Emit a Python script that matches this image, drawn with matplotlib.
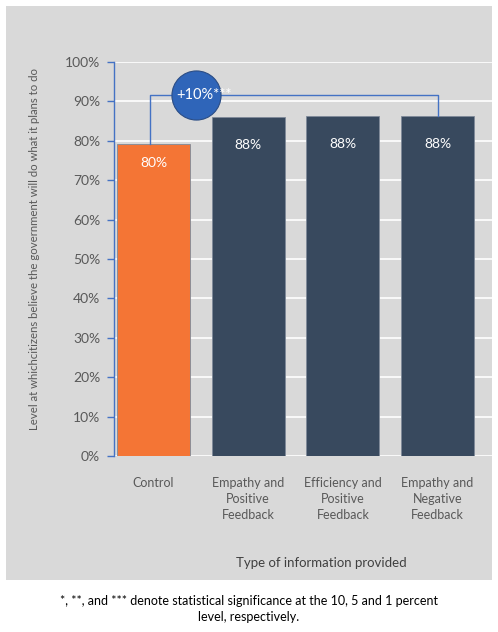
import matplotlib

matplotlib.use("Agg")

import matplotlib.pyplot as plt
from matplotlib.patches import Rectangle

categories = ["Control", "Empathy and\nPositive\nFeedback", "Efficiency and\nPositive\nFeedback",
              "Empathy and\nNegative\nFeedback"]
values = [79.3, 86.0, 86.3, 86.3]
bar_labels = ["80%", "88%", "88%", "88%"]
bar_colors = ["#F47535", "#38495E", "#38495E", "#38495E"]
yticks = list(range(0, 101, 10))
effect_text = "+10%***"
bracket_level = 91.5

plt.rcParams["font.family"] = ["Lato", "DejaVu Sans"]

fig = plt.figure(figsize=(4.98, 6.32), dpi=100)
fig.add_artist(Rectangle((6 / 498, 1 - 580 / 632), 486 / 498, 574 / 632,
                         transform=fig.transFigure, facecolor="#D9D9D9",
                         edgecolor="none", zorder=-10))

ax = fig.add_axes([114 / 498, 1 - 456 / 632, 378 / 498, 394 / 632])
ax.set_facecolor("none")
x = list(range(len(categories)))
ax.bar(x, values, width=0.77, color=bar_colors, edgecolor="#7F8A99", linewidth=0.6, zorder=3)
# Excel put the first label closer to its bar top than the others
label_offsets = [-19, -28, -28, -28]
for xi, v, lab, off in zip(x, values, bar_labels, label_offsets):
    ax.annotate(lab, (xi, v), xytext=(0, off), textcoords="offset pixels",
                ha="center", va="center", color="white", fontsize=10, zorder=5)

ax.set_xlim(-0.417, 3.575)
ax.set_ylim(0, 100)
ax.set_yticks(yticks)
ax.set_yticklabels([f"{t}%" for t in yticks], color="#595959", fontsize=10)
ax.yaxis.grid(True, color="white", linewidth=1.2, zorder=1)
ax.set_axisbelow(True)
ax.tick_params(axis="y", length=5, color="#4472C4", width=1, pad=5)
ax.tick_params(axis="x", length=0, pad=15)
ax.set_xticks(x)
ax.set_xticklabels(categories, color="#595959", fontsize=9, linespacing=1.4, va="top")
for side in ["top", "right", "bottom"]:
    ax.spines[side].set_visible(False)
ax.spines["left"].set_color("#4472C4")
ax.spines["left"].set_linewidth(1)

ax.set_ylabel("Level at whichcitizens believe the government will do what it plans to do",
              color="#595959", fontsize=8.2)
ax.yaxis.set_label_coords(-0.195, 0.525)

# significance bracket
ax.plot([x[0] - 0.04, x[0] - 0.04, x[3], x[3]], [values[0], bracket_level, bracket_level, values[3]],
        color="#4472C4", linewidth=1, zorder=4)
cx = x[0] + 0.45
ax.scatter([cx], [bracket_level], s=1250, color="#2F65B9", edgecolor="#2B4D85",
           linewidth=0.8, zorder=5)
ax.text(cx + 0.08, bracket_level, effect_text, ha="center", va="center", color="white",
        fontsize=10.5, zorder=6)

fig.text(321 / 498, 1 - 563 / 632, "Type of information provided", ha="center", va="center",
         color="#404040", fontsize=9.5)
fig.text(249 / 498, 1 - 609 / 632,
         "*, **, and *** denote statistical significance at the 10, 5 and 1 percent\nlevel, respectively.",
         ha="center", va="center", color="black", fontsize=9, linespacing=1.4)

fig.savefig("out.png", dpi=100)
